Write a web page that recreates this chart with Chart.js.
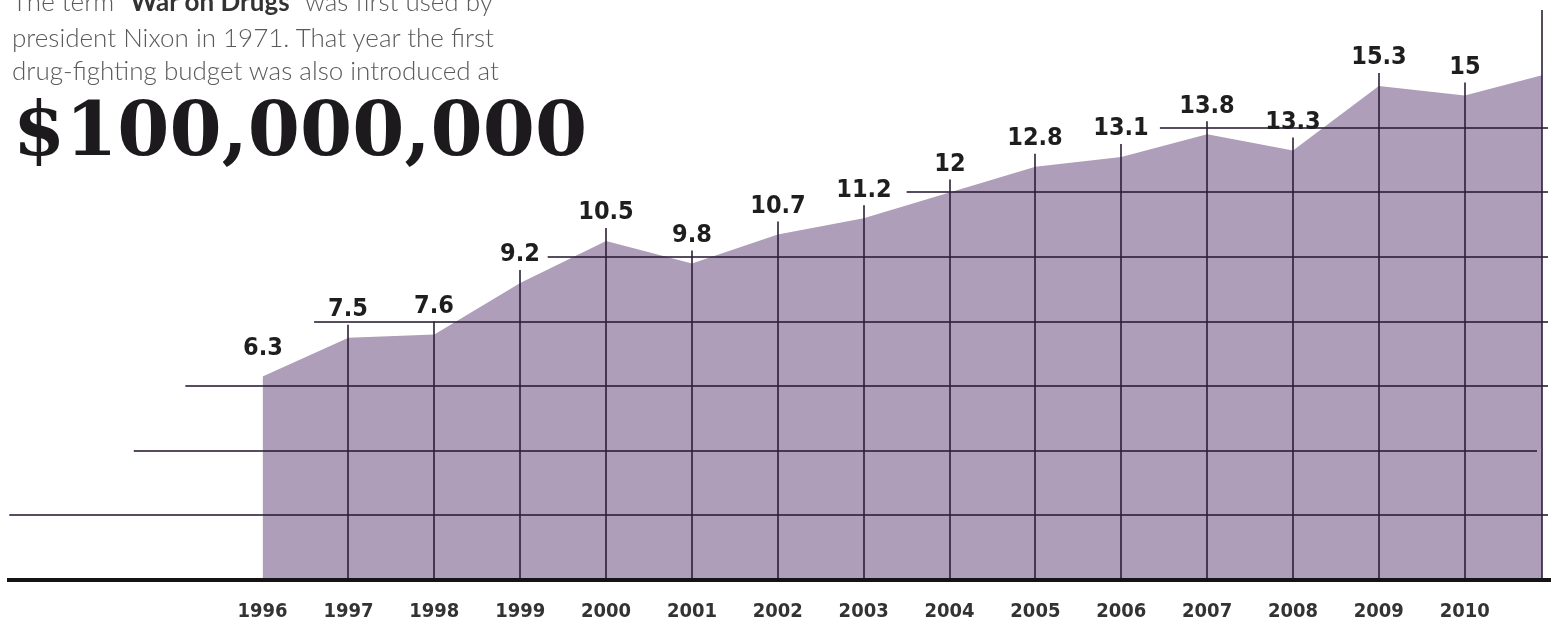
<!DOCTYPE html>
<html>
<head>
<meta charset="utf-8">
<script src="https://cdn.jsdelivr.net/npm/chart.js@4"></script>
<style>
  body { margin: 0; background: #fff; }
  #wrap { position: relative; width: 1555px; height: 627px; overflow: hidden; }
  #chart { position: absolute; left: 0; top: 0; }
  .intro {
    position: absolute; left: 12px; color: #5a5a5a;
    font-family: Lato, 'Open Sans', sans-serif; font-weight: 300; font-size: 26px;
    white-space: nowrap; line-height: 1;
  }
  .intro b { font-weight: 700; color: #333; }
  #big {
    position: absolute; left: 13px; top: 92px; color: #1c1a1d;
    font-family: 'DejaVu Serif', serif; font-weight: 700; font-size: 75px;
    white-space: nowrap; line-height: 1;
  }
</style>
</head>
<body>
<div id="wrap">
  <canvas id="chart" width="1555" height="627"></canvas>
  <div class="intro" style="top:-12px">The term "<b>War on Drugs</b>" was first used by</div>
  <div class="intro" style="top:24px">president Nixon in 1971. That year the first</div>
  <div class="intro" style="top:57px">drug-fighting budget was also introduced at</div>
  <div id="big">$100,000,000</div>
</div>
<script>
// anti-drug budget, billions of dollars
const years = [1996, 1997, 1998, 1999, 2000, 2001, 2002, 2003, 2004, 2005, 2006, 2007, 2008, 2009, 2010];
const budget = [6.3, 7.5, 7.6, 9.2, 10.5, 9.8, 10.7, 11.2, 12, 12.8, 13.1, 13.8, 13.3, 15.3, 15];
// the area runs on past 2010 and is cut by the right edge
const edgeYear = 2011;
const edgeValue = 15.7;
const gridValues = [2, 4, 6, 8, 10, 12, 14];

const lineColor = 'rgba(45, 30, 55, 0.8)';

// where each horizontal rule starts (in years), just a style thing
const gridStart = { 2: 1993.05, 4: 1994.5, 6: 1995.1, 8: 1996.6, 10: 1999.32, 12: 2003.5, 14: 2006.45 };

const decor = {
    id: 'decor',
    afterDatasetsDraw(chart) {
        const { ctx, chartArea: area } = chart;
        const xs = chart.scales.x, ys = chart.scales.y;
        ctx.save();

        // horizontal rules
        ctx.strokeStyle = lineColor;
        ctx.lineWidth = 2;
        gridValues.forEach(v => {
            const y = Math.round(ys.getPixelForValue(v));
            ctx.beginPath();
            ctx.moveTo(xs.getPixelForValue(gridStart[v]), y);
            ctx.lineTo(v === 4 ? area.right - 5 : area.right + 6, y);
            ctx.stroke();
        });

        // vertical year rules up to the value labels
        ctx.font = "bold 25px 'DejaVu Sans Condensed', 'DejaVu Sans', sans-serif";
        ctx.textAlign = 'center';
        ctx.textBaseline = 'middle';
        years.forEach((yr, i) => {
            const x = Math.round(xs.getPixelForValue(yr));
            const py = ys.getPixelForValue(budget[i]);
            const ly = py - 28;
            if (i > 0) {
                ctx.strokeStyle = lineColor;
                ctx.beginPath();
                ctx.moveTo(x, area.bottom);
                ctx.lineTo(x, ly + 15);
                ctx.stroke();
            }
            ctx.fillStyle = '#1e1e1e';
            ctx.fillText(String(budget[i]), x, ly);
        });

        // right edge rule
        ctx.strokeStyle = lineColor;
        ctx.beginPath();
        ctx.moveTo(area.right, area.top);
        ctx.lineTo(area.right, area.bottom);
        ctx.stroke();

        // baseline
        ctx.strokeStyle = '#141414';
        ctx.lineWidth = 4;
        ctx.beginPath();
        ctx.moveTo(area.left + 2, area.bottom);
        ctx.lineTo(area.right + 9, area.bottom);
        ctx.stroke();

        ctx.restore();
    }
};

const points = years.map((yr, i) => ({ x: yr, y: budget[i] }));
points.push({ x: edgeYear, y: edgeValue });

new Chart(document.getElementById('chart'), {
    type: 'line',
    data: {
        datasets: [{
            data: points,
            fill: 'origin',
            backgroundColor: '#ae9eb9',
            borderWidth: 0,
            pointRadius: 0,
            tension: 0
        }]
    },
    options: {
        responsive: false,
        animation: false,
        layout: { padding: { left: 5, right: 13, top: 10, bottom: 3 } },
        scales: {
            x: {
                type: 'linear',
                min: 1993,
                max: 2010.9,
                afterBuildTicks: axis => { axis.ticks = years.map(v => ({ value: v })); },
                afterFit: axis => { axis.height = 44; },
                grid: { display: false, drawTicks: false },
                border: { display: false },
                ticks: {
                    color: '#333',
                    padding: 20,
                    maxRotation: 0,
                    autoSkip: false,
                    callback: v => String(v),
                    font: { family: "'Liberation Sans Narrow', 'DejaVu Sans Condensed', sans-serif", size: 20, weight: 'bold' }
                }
            },
            y: {
                display: false,
                min: 0,
                max: 17.65
            }
        },
        plugins: {
            legend: { display: false },
            tooltip: { enabled: false }
        }
    },
    plugins: [decor]
});
</script>
</body>
</html>
